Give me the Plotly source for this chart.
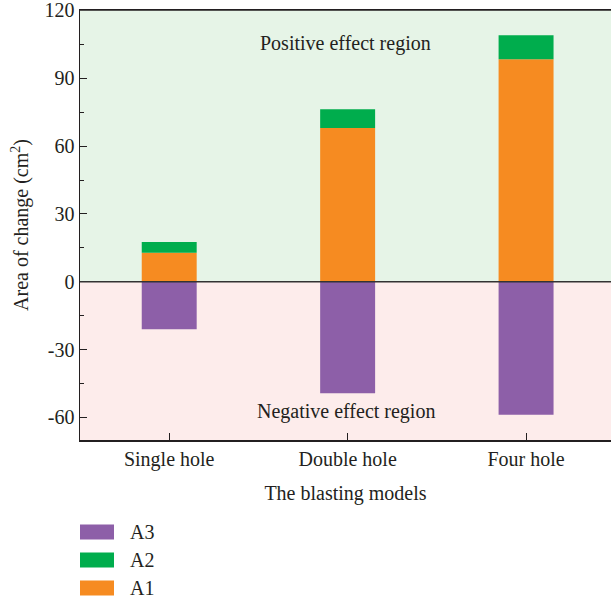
import plotly.graph_objects as go

categories = ["Single hole", "Double hole", "Four hole"]
a1_values = [12.8, 68.0, 98.4]
a2_values = [4.8, 8.3, 10.6]
a3_values = [-21.0, -49.3, -58.8]
y_ticks = [-60, -30, 0, 30, 60, 90, 120]
y_tick_labels = ["-60", "-30", "0", "30", "60", "90", "120"]

FONT = "Liberation Serif"
TXT = "#231f20"
c_a1 = "#f68b21"
c_a2 = "#00ad4d"
c_a3 = "#8d5fa8"

fig = go.Figure()
xs = [0, 1, 2]
BW = 0.308
fig.add_trace(go.Bar(x=xs, y=a1_values, name="A1", marker=dict(color=c_a1, line=dict(width=0)), width=BW, showlegend=False, hoverinfo="skip"))
fig.add_trace(go.Bar(x=xs, y=a2_values, name="A2", marker=dict(color=c_a2, line=dict(width=0)), width=BW, showlegend=False, hoverinfo="skip"))
fig.add_trace(go.Bar(x=xs, y=a3_values, name="A3", marker=dict(color=c_a3, line=dict(width=0)), width=BW, showlegend=False, hoverinfo="skip"))

shapes = [
    dict(type="rect", xref="paper", yref="y", x0=0, x1=1, y0=0, y1=120.2, fillcolor="#e6f4e7", line=dict(width=0), layer="below"),
    dict(type="rect", xref="paper", yref="y", x0=0, x1=1, y0=-70, y1=0, fillcolor="#fdeceb", line=dict(width=0), layer="below"),
    dict(type="line", xref="paper", yref="y", x0=0, x1=1, y0=0, y1=0, line=dict(color="#333333", width=1.5), layer="above"),
    dict(type="line", xref="paper", yref="paper", x0=0, x1=1, y0=1, y1=1, line=dict(color="#231f20", width=1.5), layer="above"),
]

# manual legend (paper coordinates relative to plot area 10..440 px)
def py(p):
    return (440 - p) / 430.0
def px(p):
    return (p - 80) / 531.0

legend_items = [("A3", c_a3, 532), ("A2", c_a2, 560), ("A1", c_a1, 588)]
annotations = []
for name, col, yc in legend_items:
    shapes.append(dict(type="rect", xref="paper", yref="paper", x0=px(80), x1=px(114),
                       y0=py(yc + 7.5), y1=py(yc - 7.5), fillcolor=col, line=dict(width=0)))
    annotations.append(dict(xref="paper", yref="paper", x=px(128), y=py(yc), text=name, showarrow=False,
                            xanchor="left", yanchor="middle", font=dict(family=FONT, size=20, color=TXT)))

annotations.append(dict(xref="x", yref="y", x=0.99, y=105.5, text="Positive effect region", showarrow=False,
                        font=dict(family=FONT, size=20, color=TXT)))
annotations.append(dict(xref="x", yref="y", x=0.99, y=-57.5, text="Negative effect region", showarrow=False,
                        font=dict(family=FONT, size=20, color=TXT)))

fig.update_layout(
    barmode="relative",
    width=611, height=603,
    margin=dict(l=80, r=0, t=10, b=163),
    paper_bgcolor="white",
    plot_bgcolor="white",
    font=dict(family=FONT, size=20, color=TXT),
    shapes=shapes,
    annotations=annotations,
    showlegend=False,
    hovermode=False,
    xaxis=dict(
        tickmode="array", tickvals=xs, ticktext=categories,
        range=[-0.5, 2.476],
        showline=True, linecolor="#231f20", linewidth=1.5, mirror=True,
        ticks="inside", ticklen=7, tickcolor="#231f20",
        showgrid=False, zeroline=False, automargin=False,
        title=dict(text="The blasting models", font=dict(family=FONT, size=20, color=TXT), standoff=16),
    ),
    yaxis=dict(
        range=[-70, 120.2],
        tickmode="array", tickvals=y_ticks, ticktext=y_tick_labels,
        showline=True, linecolor="#231f20", linewidth=1.5, mirror=True,
        ticks="inside", ticklen=7, tickcolor="#231f20",
        ticklabeloverflow="allow",
        minor=dict(ticks="inside", ticklen=4, tickvals=[-45, -15, 15, 45, 75, 105], tickcolor="#231f20", showgrid=False),
        showgrid=False, zeroline=False, automargin=False,
        title=dict(text="Area of change (cm<sup>2</sup>)", font=dict(family=FONT, size=20, color=TXT), standoff=10),
    ),
)

fig.write_html("out.html", config={"displayModeBar": False, "staticPlot": True},
               post_script="document.body.style.margin='0';document.body.style.overflow='hidden';")
